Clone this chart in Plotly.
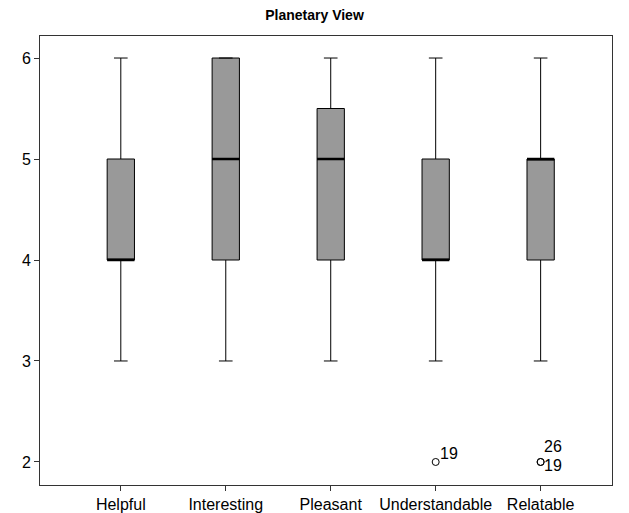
import plotly.graph_objects as go

categories = ["Helpful", "Interesting", "Pleasant", "Understandable", "Relatable"]
mins = [3, 3, 3, 3, 3]
q1s = [4, 4, 4, 4, 4]
medians = [4, 5, 5, 4, 5]
q3s = [5, 6, 5.5, 5, 5]
maxs = [6, 6, 6, 6, 6]
outlier_cat = [3, 4, 4]
outlier_val = [2, 2, 2]
outlier_lbl = ["19", "26", "19"]

# label offsets in pixels (style only)
label_shift = [(2, 8), (1, 15), (1, -4)]

FONT = "Arial, Liberation Sans, sans-serif"
BW = 0.26

fig = go.Figure()
for i, c in enumerate(categories):
    fig.add_trace(go.Box(
        x=[i], q1=[q1s[i]], median=[medians[i]], q3=[q3s[i]],
        lowerfence=[mins[i]], upperfence=[maxs[i]],
        width=BW, whiskerwidth=0.5,
        fillcolor="#999999", line=dict(color="black", width=1),
        boxpoints=False, showlegend=False, hoverinfo="skip",
    ))
    fig.add_trace(go.Scatter(
        x=[i - BW / 2, i + BW / 2], y=[medians[i], medians[i]],
        mode="lines", line=dict(color="black", width=2.5),
        showlegend=False, hoverinfo="skip",
    ))

fig.add_trace(go.Scatter(
    x=outlier_cat, y=outlier_val, mode="markers",
    marker=dict(symbol="circle-open", size=7, color="black", line=dict(width=1)),
    showlegend=False, hoverinfo="skip",
))
for c, v, l, (dx, dy) in zip(outlier_cat, outlier_val, outlier_lbl, label_shift):
    fig.add_annotation(
        x=c, y=v, text=l, showarrow=False, xanchor="left", yanchor="middle",
        xshift=dx, yshift=dy,
        font=dict(family=FONT, size=16, color="black"),
    )

fig.update_layout(
    width=629, height=513,
    margin=dict(l=40, r=17, t=36, b=28),
    paper_bgcolor="white", plot_bgcolor="white",
    title=dict(text="<b>Planetary View</b>", x=0.5, xanchor="center",
               y=1 - 15 / 513, yanchor="middle",
               font=dict(family=FONT, size=14, color="black")),
    font=dict(family=FONT, size=14, color="black"),
)
fig.update_xaxes(
    range=[-0.77, 4.68], tickvals=list(range(len(categories))), ticktext=categories,
    showgrid=False, zeroline=False, showline=True, mirror=True, automargin=False,
    linecolor="#333333", linewidth=1, ticks="outside", ticklen=5,
    tickcolor="#333333", tickfont=dict(family=FONT, size=16, color="black"),
)
fig.update_yaxes(
    range=[1.772, 6.218], tickvals=[2, 3, 4, 5, 6], automargin=False,
    showgrid=False, zeroline=False, showline=True, mirror=True,
    linecolor="#333333", linewidth=1, ticks="outside", ticklen=5,
    tickcolor="#333333", tickfont=dict(family=FONT, size=16, color="black"),
)

fig.write_html("out.html", config={"displayModeBar": False},
               post_script="document.body.style.margin='0';")
